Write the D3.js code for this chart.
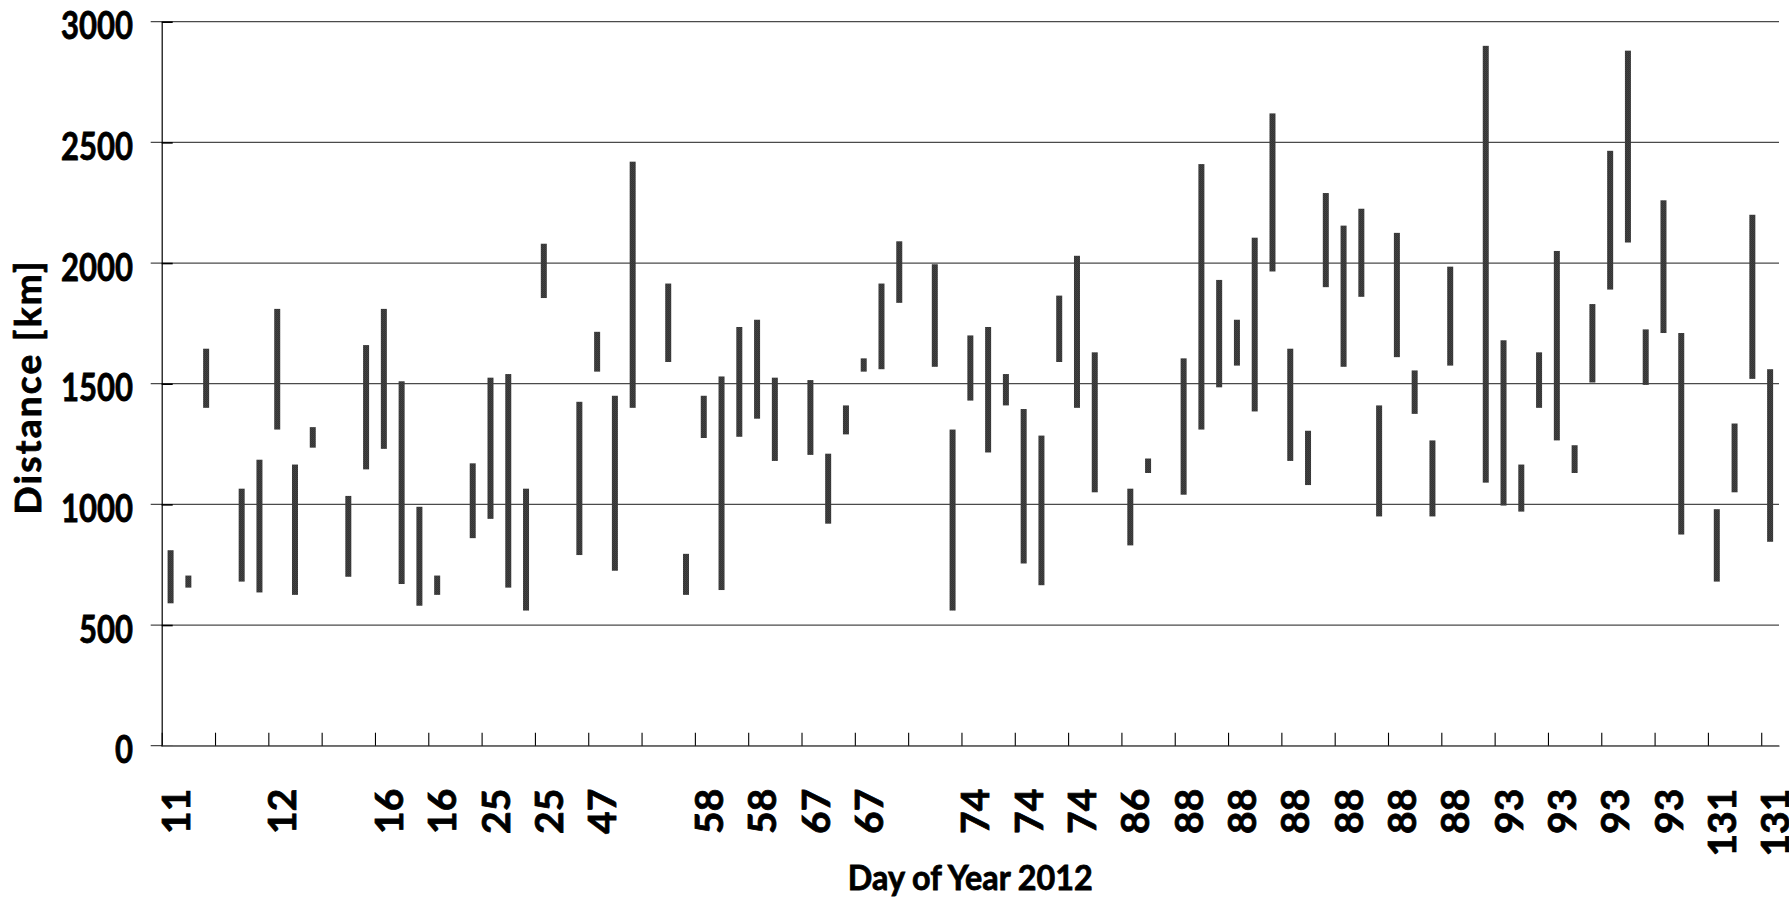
<!DOCTYPE html>
<html>
<head>
<meta charset="utf-8">
<script src="https://cdn.jsdelivr.net/npm/d3@7/dist/d3.min.js"></script>
<style>
  html, body { margin: 0; padding: 0; background: #fff; }
  svg { display: block; }
  text { font-family: Lato, "Open Sans", "Liberation Sans", sans-serif; font-weight: bold; fill: #000; stroke: #000; stroke-width: 0.8px; }
</style>
</head>
<body>
<svg id="chart" width="1789" height="900"></svg>
<script>
// Day of year for each category slot; "" marks the empty gap between days
const dayLabels = [
  "11","11","11","",
  "12","12","12","12","12","",
  "16","16","16","16","16","16","",
  "25","25","25","25","25","",
  "47","47","47","47","",
  "58","58","58","58","58","58","58","",
  "67","67","67","67","67","67","",
  "74","74","74","74","74","74","74","74","74","74","",
  "86","86","",
  "88","88","88","88","88","88","88","88","88","88","88","88","88","88","88","88","",
  "93","93","93","93","93","93","93","93","93","93","93","93","",
  "131","131","131","131"
];

// Lower end of each distance range [km]
const lowKm = [
  590, 655, 1400, null,
  680, 635, 1310, 625, 1235, null,
  700, 1145, 1230, 670, 580, 625, null,
  860, 940, 655, 560, 1855, null,
  790, 1550, 725, 1400, null,
  1590, 625, 1275, 645, 1280, 1355, 1180, null,
  1205, 920, 1290, 1550, 1560, 1835, null,
  1570, 560, 1430, 1215, 1410, 755, 665, 1590, 1400, 1050, null,
  830, 1130, null,
  1040, 1310, 1485, 1575, 1385, 1965, 1180, 1080, 1900, 1570, 1860, 950, 1610, 1375, 950, 1575, null,
  1090, 995, 970, 1400, 1265, 1130, 1505, 1890, 2085, 1495, 1710, 875, null,
  680, 1050, 1520, 845
];

// Upper end of each distance range [km]
const highKm = [
  810, 705, 1645, null,
  1065, 1185, 1810, 1165, 1320, null,
  1035, 1660, 1810, 1510, 990, 705, null,
  1170, 1525, 1540, 1065, 2080, null,
  1425, 1715, 1450, 2420, null,
  1915, 795, 1450, 1530, 1735, 1765, 1525, null,
  1515, 1210, 1410, 1605, 1915, 2090, null,
  1995, 1310, 1700, 1735, 1540, 1395, 1285, 1865, 2030, 1630, null,
  1065, 1190, null,
  1605, 2410, 1930, 1765, 2105, 2620, 1645, 1305, 2290, 2155, 2225, 1410, 2125, 1555, 1265, 1985, null,
  2900, 1680, 1165, 1630, 2050, 1245, 1830, 2465, 2880, 1725, 2260, 1710, null,
  980, 1335, 2200, 1560
];

const yTicks = [0, 500, 1000, 1500, 2000, 2500, 3000];
const labelEvery = 3;

const plotLeft = 161.7, plotRight = 1779, plotTop = 21.7, plotBottom = 745.7;
const svg = d3.select("#chart");
const n = dayLabels.length;

// Category slots and their boundaries
const x = d3.scaleBand().domain(d3.range(n)).range([plotLeft, plotRight]).padding(0);
const xEdge = d3.scaleLinear().domain([0, n]).range([plotLeft, plotRight]);
const y = d3.scaleLinear().domain([0, 3000]).range([plotBottom, plotTop]);

// Fine dotted texture of the bars
const defs = svg.append("defs");
const pat = defs.append("pattern")
  .attr("id", "barTex").attr("patternUnits", "userSpaceOnUse")
  .attr("width", 2).attr("height", 2);
pat.append("rect").attr("width", 2).attr("height", 2).attr("fill", "#333");
pat.append("rect").attr("x", 1).attr("y", 0).attr("width", 1).attr("height", 1).attr("fill", "#474747");
pat.append("rect").attr("x", 0).attr("y", 1).attr("width", 1).attr("height", 1).attr("fill", "#404040");

// Horizontal gridlines (they also poke out left of the axis)
svg.append("g").selectAll("line").data(yTicks).join("line")
  .attr("x1", plotLeft - 11).attr("x2", plotRight)
  .attr("y1", d => y(d)).attr("y2", d => y(d))
  .attr("stroke", "#4a4a4a").attr("stroke-width", 1.3);

// Floating range bars
const rows = d3.range(n).filter(i => lowKm[i] != null);
const barW = 6;
svg.append("g").selectAll("rect").data(rows).join("rect")
  .attr("x", i => x(i) + x.bandwidth() / 2 - barW / 2)
  .attr("width", barW)
  .attr("y", i => y(highKm[i]))
  .attr("height", i => y(lowKm[i]) - y(highKm[i]))
  .attr("fill", "url(#barTex)");

// Y axis
const yAxis = svg.append("g")
  .attr("transform", `translate(${plotLeft},0)`)
  .call(d3.axisLeft(y).tickValues(yTicks).tickFormat(d => String(d))
    .tickSizeInner(-11).tickSizeOuter(0).tickPadding(28.7));
yAxis.select(".domain").attr("stroke", "#000").attr("stroke-width", 1.2);
yAxis.selectAll(".tick line").attr("stroke", "#000").attr("stroke-width", 1.6);
yAxis.selectAll(".tick text")
  .attr("font-size", 38)
  .attr("dy", null)
  .attr("y", 17)
  .attr("textLength", d => String(d).length * 18)
  .attr("lengthAdjust", "spacingAndGlyphs");

// X axis: ticks on slot boundaries, labels every third slot
const xTickVals = d3.range(0, n, labelEvery);
const xAxis = svg.append("g")
  .attr("transform", `translate(0,${plotBottom})`)
  .call(d3.axisBottom(xEdge).tickValues(xTickVals)
    .tickFormat(i => dayLabels[i]).tickSizeInner(-13).tickSizeOuter(0));
xAxis.select(".domain").attr("stroke", "#777").attr("stroke-width", 1.8);
xAxis.selectAll(".tick line").attr("stroke", "#000").attr("stroke-width", 1.1);
xAxis.selectAll(".tick text")
  .attr("font-size", 39)
  .attr("x", null).attr("y", null).attr("dy", null)
  .attr("text-anchor", "end")
  .attr("transform", "translate(27.5,43) rotate(-90)");

// Axis titles
svg.append("text")
  .attr("transform", "translate(41,388) rotate(-90)")
  .attr("text-anchor", "middle")
  .attr("font-size", 37)
  .attr("textLength", 253).attr("lengthAdjust", "spacing")
  .text("Distance [km]");

svg.append("text")
  .attr("x", (plotLeft + plotRight) / 2).attr("y", 890)
  .attr("text-anchor", "middle")
  .attr("font-size", 34)
  .attr("textLength", 245).attr("lengthAdjust", "spacingAndGlyphs")
  .text("Day of Year 2012");
</script>
</body>
</html>
